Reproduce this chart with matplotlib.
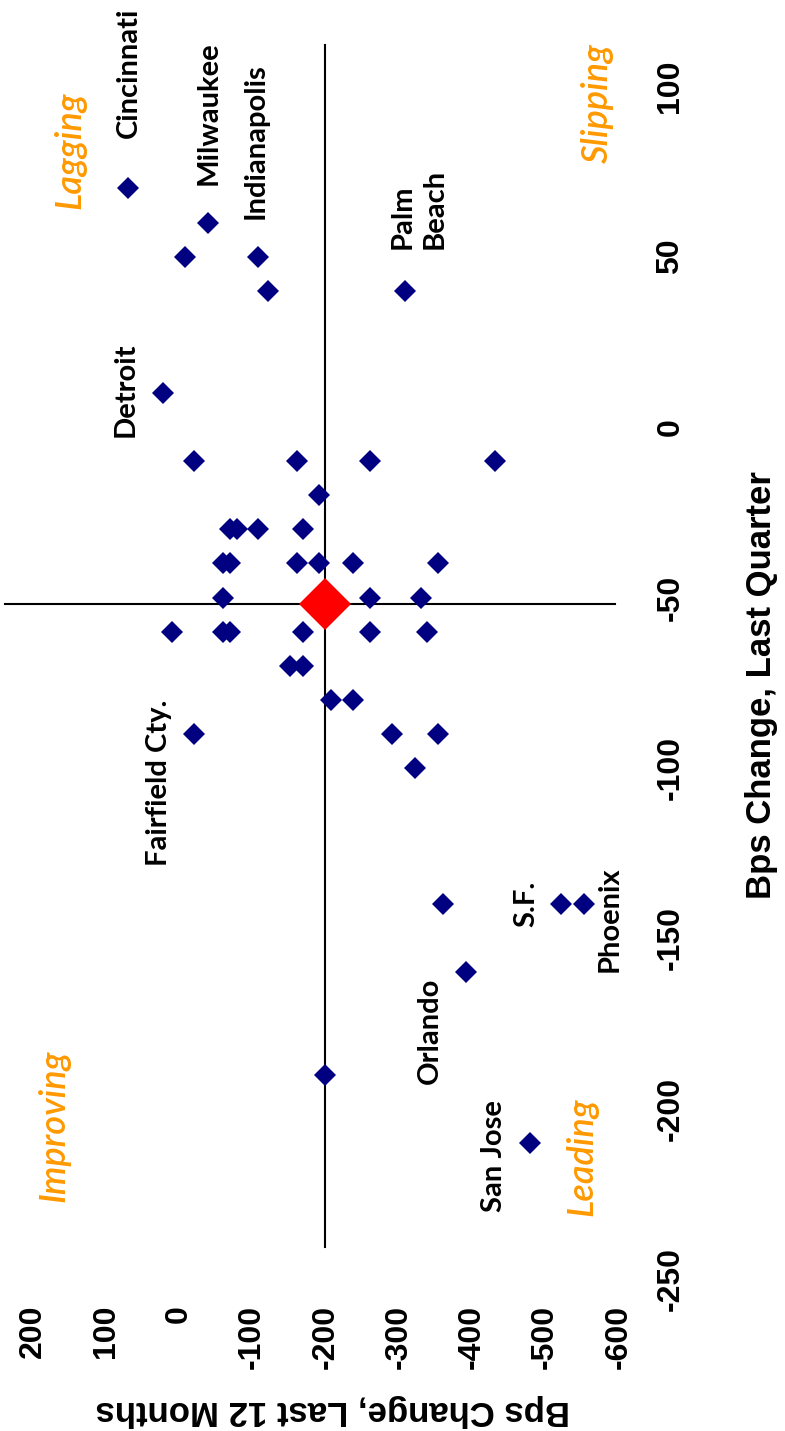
import matplotlib
matplotlib.use("Agg")
import matplotlib.pyplot as plt

# ---------------- data ----------------
# Bps change over the last quarter (drawn on the vertical axis)
chg_quarter = [70, 60, 50, 50, 40, 40, 10,
               -10, -10, -10, -10,
               -20,
               -30, -30, -30, -30,
               -40, -40, -40, -40, -40, -40,
               -50, -50, -50,
               -60, -60, -60, -60, -60, -60,
               -70, -70,
               -80, -80,
               -90, -90, -90,
               -100,
               -140, -140, -140,
               -160,
               -190,
               -210]
# Bps change over the last 12 months (drawn on the horizontal axis)
chg_12m = [70, -40, -8, -108, -122, -308, 22,
           -21, -161, -261, -431,
           -191,
           -70, -79, -108, -169,
           -60, -69, -161, -191, -238, -353,
           -60, -261, -331,
           9, -60, -69, -169, -261, -339,
           -151, -169,
           -208, -238,
           -21, -291, -353,
           -322,
           -361, -522, -553,
           -392,
           -200,
           -479]
city_names = ["Cincinnati", "Milwaukee", "", "Indianapolis", "", "Palm\nBeach", "Detroit",
              "", "", "", "", "",
              "", "", "", "",
              "", "", "", "", "", "",
              "", "", "",
              "", "", "", "", "", "",
              "", "",
              "", "",
              "Fairfield Cty.", "", "",
              "",
              "", "S.F.", "Phoenix",
              "Orlando",
              "",
              "San Jose"]
avg_quarter = -52
avg_12m = -200

x_ticks = [200, 100, 0, -100, -200, -300, -400, -500, -600]
y_ticks = [-250, -200, -150, -100, -50, 0, 50, 100]
x_title = "Bps Change, Last 12 Months"
y_title = "Bps Change, Last Quarter"
quadrants = ["Lagging", "Slipping", "Improving", "Leading"]

# ---------------- styles / layout ----------------
NAVY = "#000080"
ORANGE = "#FF9900"
W, H = 785, 1431

label_style = {  # offsets in points, alignment of rotated text box
    "Cincinnati": ((0.9, 36.7), "center", "bottom"),
    "Milwaukee": ((0.5, 27.1), "center", "bottom"),
    "Indianapolis": ((-1.7, 27.1), "center", "bottom"),
    "Palm\nBeach": ((-10.8, 30.0), "left", "bottom"),
    "Detroit": ((-17.8, 2.0), "right", "center"),
    "Fairfield Cty.": ((-16.0, 24.5), "right", "top"),
    "Orlando": ((-16.6, -3.8), "right", "top"),
    "S.F.": ((-15.6, 0.6), "right", "center"),
    "Phoenix": ((9.1, -10.6), "left", "center"),
    "San Jose": ((-16.6, -9.4), "right", "center"),
}
quad_pos = {"Lagging": (70, 150), "Slipping": (597, 103),
            "Improving": (54, 1126), "Leading": (582, 1157)}

fig = plt.figure(figsize=(W / 100, H / 100), dpi=100)
ax = fig.add_axes([0, (H - 1300) / H, 640 / W, 1300 / H])
ax.set_xlim(244.4, -629.4)
ax.set_ylim(-256.1, 125.3)
for s in ax.spines.values():
    s.set_visible(False)

# crosshair at the averages
ax.axhline(avg_quarter, xmin=5 / 640, xmax=615 / 640, color="black", lw=1.5, zorder=1)
ax.axvline(avg_12m, ymin=53 / 1300, ymax=1255 / 1300, color="black", lw=1.5, zorder=1)

ax.plot(chg_12m, chg_quarter, linestyle="none", marker="D", ms=10.7,
        mew=0, color=NAVY, zorder=3)
ax.plot([avg_12m], [avg_quarter], linestyle="none", marker="D", ms=26.5,
        mew=0, color="#FF0000", zorder=4)

city_font = dict(family="Lato", weight="bold", size=21)
for name, xv, yv in zip(city_names, chg_12m, chg_quarter):
    if not name:
        continue
    off, ha, va = label_style[name]
    ax.annotate(name, xy=(xv, yv), xytext=off, textcoords="offset points",
                rotation=90, ha=ha, va=va, multialignment="left",
                linespacing=1.3, **city_font)

tick_font = dict(family="Liberation Sans", weight="bold", size=23)
ax.set_xticks(x_ticks)
ax.set_xticklabels([str(v) for v in x_ticks], rotation=90, **tick_font)
ax.yaxis.tick_right()
ax.set_yticks(y_ticks)
ax.set_yticklabels([str(v) for v in y_ticks], rotation=90, va="center", **tick_font)
ax.tick_params(axis="x", length=0, pad=3.6)
ax.tick_params(axis="y", length=0, pad=11)

fig.text(761.5 / W, 1 - 685 / H, y_title, rotation=90, ha="center", va="center",
         family="Liberation Sans", weight="bold", size=25)
fig.text(333 / W, 1 - 1410 / H, x_title, rotation=180, ha="center", va="center",
         family="Liberation Sans", weight="bold", size=25)

for q in quadrants:
    px, py = quad_pos[q]
    fig.text(px / W, 1 - py / H, q, rotation=90, ha="center", va="center",
             color=ORANGE, family="Lato", style="italic", weight="semibold", size=26)

fig.savefig("out.png", dpi=100)
